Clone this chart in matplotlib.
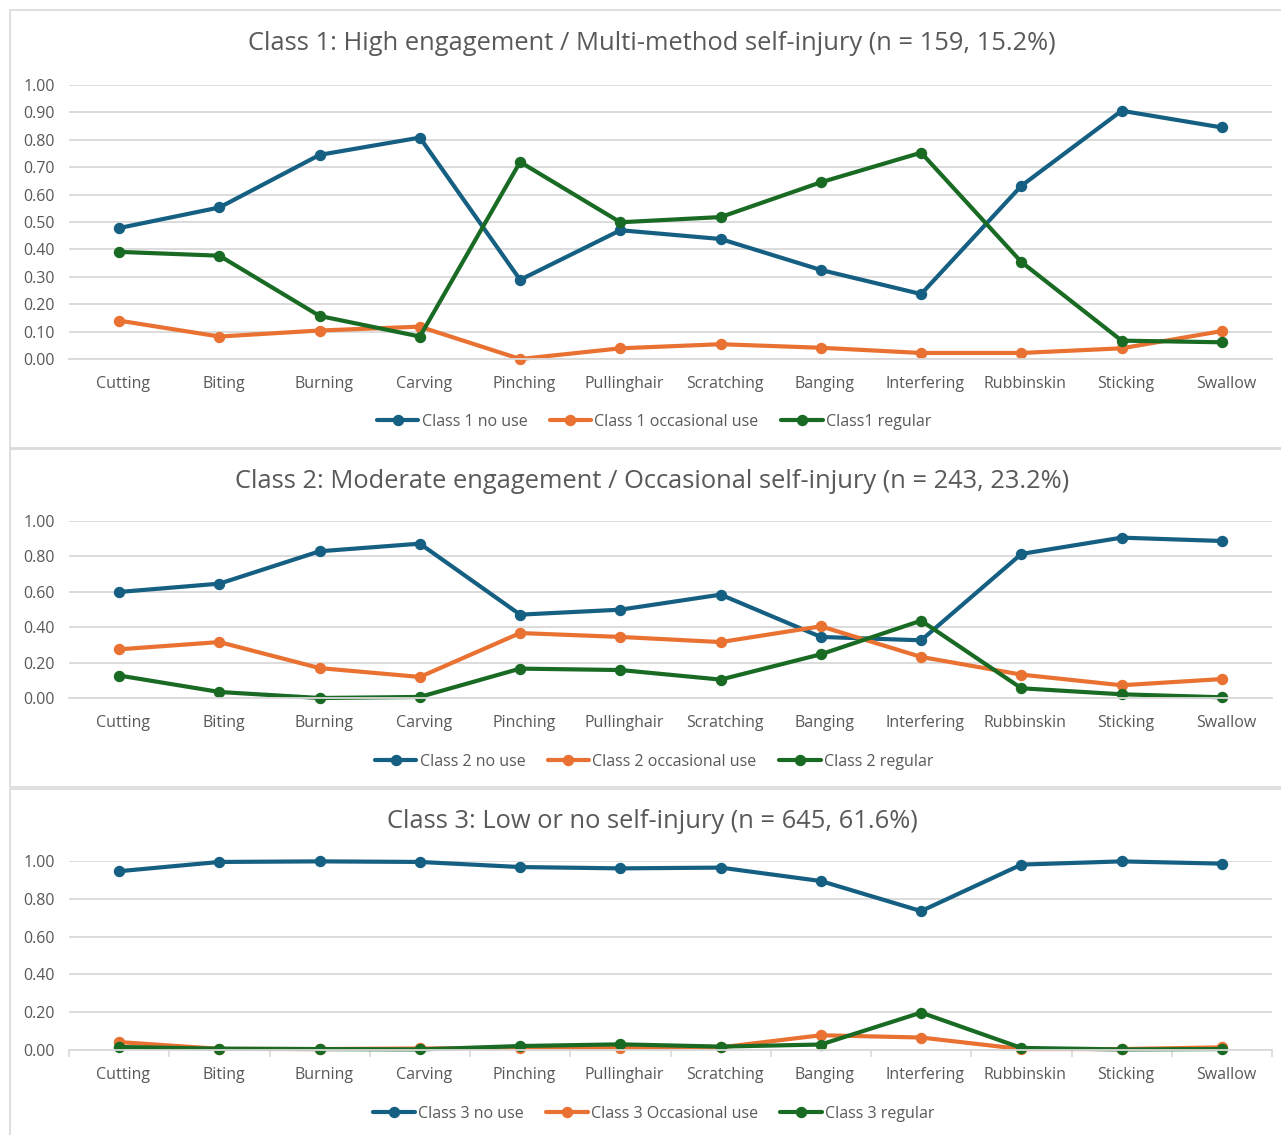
import matplotlib
matplotlib.use("Agg")
import matplotlib.pyplot as plt
from matplotlib.patches import Rectangle
from matplotlib.transforms import ScaledTranslation

plt.rcParams['font.family'] = ['Open Sans', 'DejaVu Sans']

# --- data ---
methods = ["Cutting", "Biting", "Burning", "Carving", "Pinching", "Pullinghair",
           "Scratching", "Banging", "Interfering", "Rubbinskin", "Sticking", "Swallow"]

c1_no_use = [0.478, 0.553, 0.745, 0.808, 0.289, 0.470, 0.438, 0.325, 0.237, 0.632, 0.906, 0.845]
c1_occasional = [0.140, 0.082, 0.104, 0.118, 0.000, 0.039, 0.054, 0.041, 0.022, 0.022, 0.039, 0.102]
c1_regular = [0.391, 0.377, 0.157, 0.082, 0.719, 0.499, 0.518, 0.645, 0.753, 0.354, 0.067, 0.061]

c2_no_use = [0.599, 0.646, 0.829, 0.872, 0.471, 0.499, 0.584, 0.345, 0.326, 0.814, 0.906, 0.887]
c2_occasional = [0.275, 0.316, 0.169, 0.119, 0.367, 0.345, 0.316, 0.405, 0.232, 0.132, 0.072, 0.107]
c2_regular = [0.127, 0.034, 0.000, 0.006, 0.166, 0.158, 0.104, 0.247, 0.437, 0.055, 0.021, 0.004]

c3_no_use = [0.946, 0.995, 0.998, 0.995, 0.968, 0.961, 0.965, 0.894, 0.735, 0.981, 0.998, 0.986]
c3_occasional = [0.042, 0.006, 0.005, 0.008, 0.010, 0.010, 0.014, 0.078, 0.066, 0.005, 0.005, 0.014]
c3_regular = [0.016, 0.007, 0.005, 0.003, 0.021, 0.030, 0.018, 0.029, 0.198, 0.011, 0.003, 0.005]

titles = ["Class 1: High engagement / Multi-method self-injury (n = 159, 15.2%)",
          "Class 2: Moderate engagement / Occasional self-injury (n = 243, 23.2%)",
          "Class 3: Low or no self-injury (n = 645, 61.6%)"]
legend_labels = [["Class 1 no use", "Class 1 occasional use", "Class1 regular"],
                 ["Class 2 no use", "Class 2 occasional use", "Class 2 regular"],
                 ["Class 3 no use", "Class 3 Occasional use", "Class 3 regular"]]
series = [[c1_no_use, c1_occasional, c1_regular],
          [c2_no_use, c2_occasional, c2_regular],
          [c3_no_use, c3_occasional, c3_regular]]
y_steps = [0.1, 0.2, 0.2]

colors = ["#156082", "#E97132", "#196B24"]
text_col = "#595959"
grid_col = "#D9D9D9"

W, H = 1281, 1135
fig = plt.figure(figsize=(W / 100, H / 100), dpi=100)

def fx(x):
    return x / W

def fy(y):
    return 1 - y / H

# pixel layout of each panel: (box top, box bottom, title y, axes top, axes bottom, legend y)
panels = [(10, 448, 43, 85, 359, 422),
          (449, 787, 481, 521, 698, 762),
          (789, 1140, 821, 861, 1050, 1114)]

ax_left, ax_right = 69, 1272

for i, (btop, bbot, ty, atop, abot, ly) in enumerate(panels):
    # chart border
    fig.patches.append(Rectangle((fx(10), fy(bbot)), fx(1285 - 10), fy(btop) - fy(bbot),
                                 transform=fig.transFigure, fill=False,
                                 edgecolor=grid_col, linewidth=1.2))
    fig.text(fx(652), fy(ty), titles[i], ha="center", va="center",
             fontsize=18.4, color=text_col)

    ax = fig.add_axes([fx(ax_left), fy(abot), fx(ax_right - ax_left), fy(atop) - fy(abot)])
    xs = list(range(len(methods)))
    handles = []
    for vals, col, lab in zip(series[i], colors, legend_labels[i]):
        h, = ax.plot(xs, vals, color=col, linewidth=3.0, marker="o", markersize=7.2,
                     label=lab, solid_capstyle="round", clip_on=False)
        handles.append(h)

    ax.set_xlim(-0.5, len(methods) - 0.5)
    ax.set_ylim(0, 1.0)
    step = y_steps[i]
    ticks = [round(k * step, 2) for k in range(int(round(1 / step)) + 1)]
    ax.set_yticks(ticks)
    ax.set_yticklabels([f"{t:.2f}" for t in ticks])
    ax.set_xticks(xs)
    ax.set_xticklabels(methods)
    ax.tick_params(axis="y", length=0, pad=10, labelsize=11.5, labelcolor=text_col)
    ax.tick_params(axis="x", length=0, pad=12, labelsize=11.5, labelcolor=text_col)
    # Excel places category labels a touch right of the point
    shift = ScaledTranslation(4 / 100, 0, fig.dpi_scale_trans)
    for lbl in ax.get_xticklabels():
        lbl.set_transform(lbl.get_transform() + shift)
    ax.grid(axis="y", color=grid_col, linewidth=1.3)
    ax.set_axisbelow(True)
    for s in ["top", "right", "left"]:
        ax.spines[s].set_visible(False)
    ax.spines["bottom"].set_color(grid_col)
    ax.spines["bottom"].set_linewidth(1.3)
    if i == 2:
        # small category boundary ticks on the last chart
        ax.set_xticks([k - 0.5 for k in range(len(methods) + 1)], minor=True)
        ax.tick_params(axis="x", which="minor", length=5, color=grid_col, width=1.2)

    fig.legend(handles=handles, loc="center", bbox_to_anchor=(fx(654), fy(ly)),
               ncol=3, frameon=False, fontsize=11.5, labelcolor=text_col,
               handlelength=2.6, handletextpad=0.2, columnspacing=1.4)

fig.savefig("out.png", dpi=100, facecolor="white")
